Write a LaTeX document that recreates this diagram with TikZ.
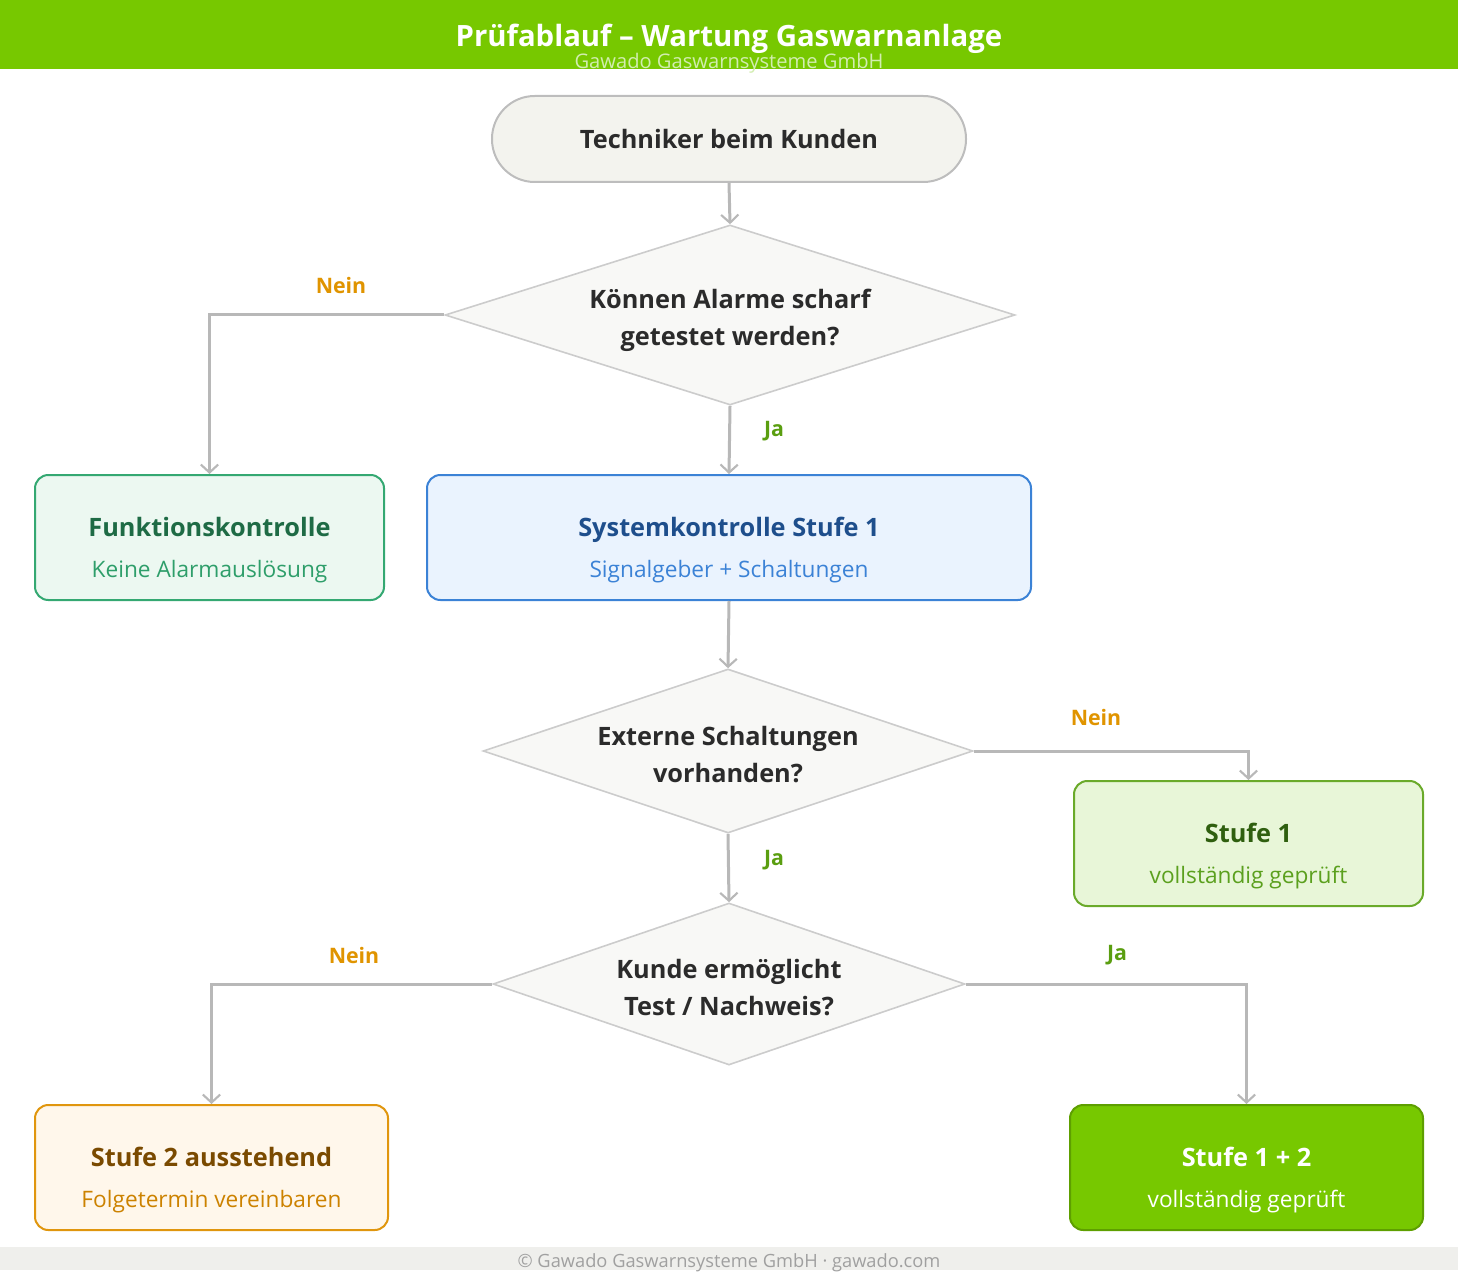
\documentclass[tikz,border=0pt]{standalone}
\usepackage{fontspec}
\setmainfont{Open Sans}
\usepackage{tikz}
\usetikzlibrary{arrows.meta,positioning,shapes.geometric}
\definecolor{leaf}{HTML}{77C800}
\definecolor{leafdark}{HTML}{5E9F00}
\definecolor{headsub}{HTML}{D2EDB0}
\definecolor{stone}{HTML}{F3F3EE}
\definecolor{stoneline}{HTML}{BDBDBD}
\definecolor{decfill}{HTML}{F8F8F6}
\definecolor{decline}{HTML}{CCCCCC}
\definecolor{wire}{HTML}{B8B8B8}
\definecolor{ink}{HTML}{2B2B2B}
\definecolor{mint}{HTML}{ECF8F1}
\definecolor{mintline}{HTML}{34A872}
\definecolor{mintdark}{HTML}{1E6B45}
\definecolor{mintsub}{HTML}{2E9E6A}
\definecolor{sky}{HTML}{EAF3FE}
\definecolor{skyline}{HTML}{3B82D6}
\definecolor{skydark}{HTML}{1E4E8C}
\definecolor{lime}{HTML}{E8F6D8}
\definecolor{limeline}{HTML}{6AAA2A}
\definecolor{limedark}{HTML}{2F5F0F}
\definecolor{limesub}{HTML}{5BA01E}
\definecolor{cream}{HTML}{FFF7EB}
\definecolor{amber}{HTML}{E0960E}
\definecolor{amberdark}{HTML}{7A4A00}
\definecolor{ambersub}{HTML}{CC8200}
\definecolor{nein}{HTML}{E09400}
\definecolor{ja}{HTML}{5A9E10}
\definecolor{foot}{HTML}{EFEFEC}
\definecolor{foottext}{HTML}{A0A0A0}

% title line and sub line of a card: colours, then texts
\newcommand{\boxtext}[4]{\rule{0pt}{33.8pt}{\color{#1}\fontsize{19}{31}\selectfont\bfseries #3}\\{\color{#2}#4}\rule[-5pt]{0pt}{5pt}}
\newcommand{\asktext}[2]{\rule{0pt}{23.75pt}#1\\#2\rule[-5pt]{0pt}{5pt}}

\tikzset{
  card/.style={rectangle,rounded corners=10pt,line width=1.5pt,align=center,inner sep=0pt,minimum height=93.75pt,font=\fontsize{17}{31}\selectfont},
  startbox/.style={rectangle,rounded corners=32pt,draw=stoneline,fill=stone,line width=1.5pt,minimum width=355.5pt,minimum height=64.5pt,text=ink,font=\fontsize{19}{22}\selectfont\bfseries},
  decision/.style={diamond,shape aspect=3,draw=decline,fill=decfill,line width=1.2pt,inner ysep=0pt,inner xsep=-20pt,align=center,text=ink,font=\fontsize{19}{27.75}\selectfont\bfseries},
  flowline/.style={draw=wire,line width=2.25pt,-{Straight Barb[length=6pt,width=13pt,line width=1.6pt]}},
  lbl/.style={font=\fontsize{16}{19}\selectfont\bfseries},
}

\begin{document}
\begin{tikzpicture}[x=0.75pt,y=-0.75pt]
\useasboundingbox (0,0) rectangle (1458,1276);
% header and footer
\fill[leaf] (0,0) rectangle (1458,69);
\node[text=white,font=\fontsize{22}{26}\selectfont\bfseries] (title) at (729,39) {Prüfablauf – Wartung Gaswarnanlage};
\node[text=headsub,font=\fontsize{15.1}{17}\selectfont] (subtitle) at (729,63) {Gawado Gaswarnsysteme GmbH};
\fill[foot] (0,1247) rectangle (1458,1270);
\node[text=foottext,font=\fontsize{13.7}{16}\selectfont] (footer) at (729,1263) {© Gawado Gaswarnsysteme GmbH · gawado.com};

% nodes
\node[startbox] (start) at (729,139) {Techniker beim Kunden};
\node[decision,minimum width=427.5pt,minimum height=135pt] (alarm) at (730,315) {\asktext{Können Alarme scharf}{getestet werden?}};
\node[card,draw=mintline,fill=mint,minimum width=261.75pt] (funk) at (209.5,537.5) {\boxtext{mintdark}{mintsub}{Funktionskontrolle}{Keine Alarmauslösung}};
\node[card,draw=skyline,fill=sky,minimum width=453pt] (sys) at (729,537.5) {\boxtext{skydark}{skyline}{Systemkontrolle Stufe 1}{Signalgeber + Schaltungen}};
\node[decision,minimum width=367.5pt,minimum height=123pt] (extern) at (728,751) {\asktext{Externe Schaltungen}{vorhanden?}};
\node[card,draw=limeline,fill=lime,minimum width=261.75pt] (stufeeins) at (1248.5,843.5) {\boxtext{limedark}{limesub}{Stufe 1}{vollständig geprüft}};
\node[decision,minimum width=354pt,minimum height=121.5pt] (kunde) at (729,984) {\asktext{Kunde ermöglicht}{Test / Nachweis?}};
\node[card,draw=amber,fill=cream,minimum width=264.75pt] (stufezwei) at (211.5,1167.5) {\boxtext{amberdark}{ambersub}{Stufe 2 ausstehend}{Folgetermin vereinbaren}};
\node[card,draw=leafdark,fill=leaf,minimum width=264.75pt] (fertig) at (1246.5,1167.5) {\boxtext{white}{white}{Stufe 1 + 2}{vollständig geprüft}};

% connectors
\draw[flowline] (start.south) -- (alarm.north);
\draw[flowline] (alarm.west) -| (funk.north);
\draw[flowline] (alarm.south) -- (sys.north);
\draw[flowline] (sys.south) -- (extern.north);
\draw[flowline] (extern.east) -| (stufeeins.north);
\draw[flowline] (extern.south) -- (kunde.north);
\draw[flowline] (kunde.west) -| (stufezwei.north);
\draw[flowline] (kunde.east) -| (fertig.north);

% labels
\node[lbl,text=nein] (n1) at (341,286) {Nein};
\node[lbl,text=ja] (j1) at (774,431) {Ja};
\node[lbl,text=nein] (n2) at (1096,717) {Nein};
\node[lbl,text=ja] (j2) at (774,860) {Ja};
\node[lbl,text=nein] (n3) at (354,955) {Nein};
\node[lbl,text=ja] (j3) at (1117,955) {Ja};
\end{tikzpicture}
\end{document}
